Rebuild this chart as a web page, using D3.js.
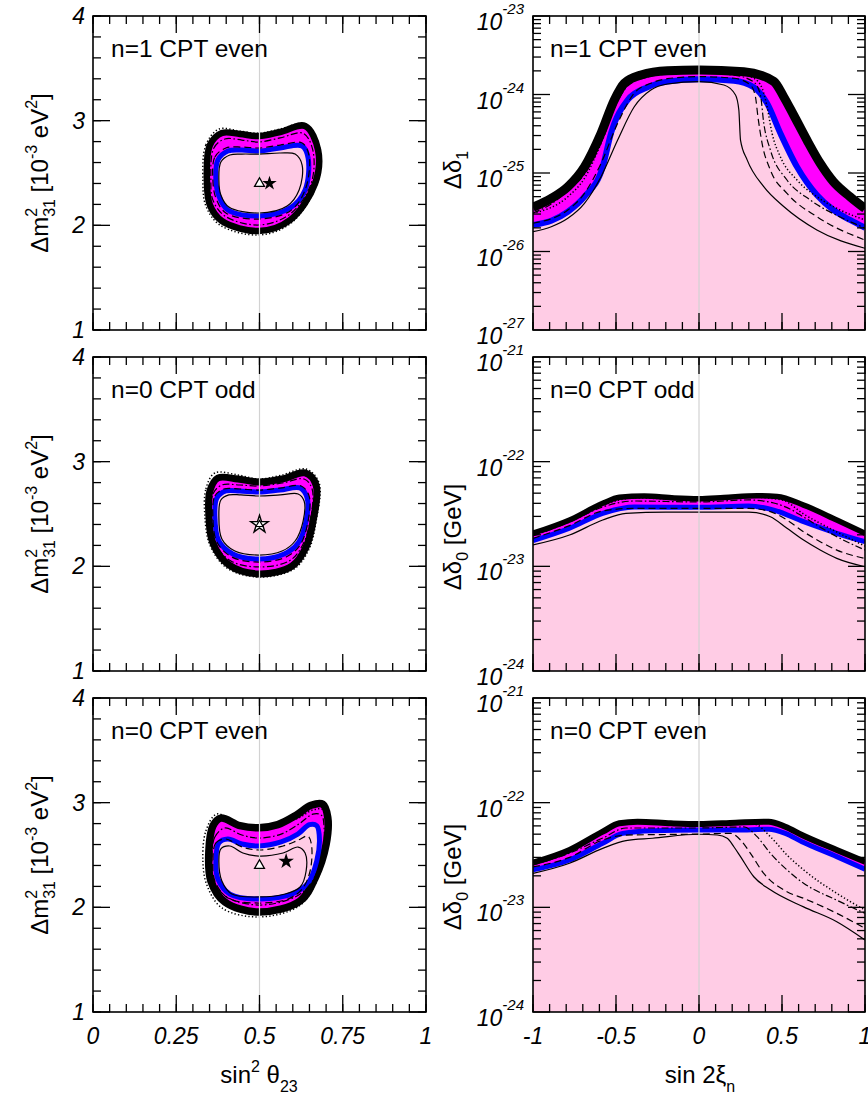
<!DOCTYPE html>
<html><head><meta charset="utf-8">
<script src="https://cdn.jsdelivr.net/npm/d3@7"></script>
<style>body{margin:0;background:#fff}svg{display:block}</style>
</head><body>
<svg id="c" width="868" height="1097"></svg>
<script>
// ---------------- DATA ----------------
// Left panels: contours in (sin^2 theta23, Delta m^2_31 [1e-3 eV^2])
const c1Black   = [[0.342,2.433],[0.351,2.767],[0.387,2.882],[0.441,2.873],[0.498,2.853],[0.562,2.892],[0.637,2.949],[0.676,2.720],[0.667,2.400],[0.592,2.051],[0.498,1.946],[0.387,2.041],[0.351,2.194]];
const c1Blue    = [[0.369,2.433],[0.375,2.624],[0.405,2.710],[0.447,2.720],[0.498,2.710],[0.562,2.739],[0.628,2.758],[0.646,2.643],[0.637,2.338],[0.592,2.166],[0.498,2.089],[0.405,2.146],[0.378,2.280]];
const c1DashDot = [[0.354,2.433],[0.363,2.739],[0.396,2.825],[0.447,2.815],[0.498,2.796],[0.562,2.835],[0.631,2.880],[0.660,2.720],[0.655,2.400],[0.592,2.108],[0.498,2.003],[0.396,2.089],[0.360,2.242]];
const c1Dashed  = [[0.360,2.433],[0.366,2.653],[0.399,2.739],[0.447,2.748],[0.498,2.739],[0.562,2.767],[0.628,2.787],[0.649,2.662],[0.637,2.338],[0.592,2.137],[0.498,2.060],[0.399,2.118],[0.369,2.261]];
const c1Solid   = [[0.378,2.433],[0.384,2.605],[0.411,2.672],[0.447,2.681],[0.498,2.681],[0.562,2.691],[0.607,2.681],[0.628,2.576],[0.619,2.338],[0.583,2.185],[0.498,2.118],[0.408,2.175],[0.384,2.290]];
const c1Dotted  = [[0.330,2.433],[0.339,2.767],[0.378,2.920],[0.441,2.900],[0.498,2.880],[0.562,2.920],[0.637,2.968],[0.682,2.720],[0.673,2.400],[0.595,2.022],[0.498,1.908],[0.381,2.003],[0.339,2.185]];

const c2Black   = [[0.348,2.481],[0.351,2.720],[0.375,2.844],[0.435,2.834],[0.498,2.806],[0.568,2.834],[0.637,2.892],[0.670,2.777],[0.661,2.433],[0.640,2.185],[0.598,2.003],[0.498,1.927],[0.408,2.013],[0.360,2.223]];
const c2Blue    = [[0.366,2.481],[0.372,2.653],[0.399,2.720],[0.441,2.720],[0.498,2.710],[0.562,2.729],[0.622,2.748],[0.643,2.653],[0.640,2.433],[0.616,2.223],[0.574,2.118],[0.498,2.070],[0.420,2.118],[0.378,2.242]];
const c2DashDot = [[0.357,2.481],[0.360,2.691],[0.387,2.777],[0.441,2.777],[0.498,2.767],[0.568,2.796],[0.634,2.834],[0.658,2.739],[0.652,2.433],[0.628,2.194],[0.589,2.051],[0.498,1.994],[0.414,2.051],[0.366,2.223]];
const c2Dashed  = [[0.360,2.481],[0.366,2.672],[0.393,2.739],[0.441,2.739],[0.498,2.729],[0.562,2.748],[0.625,2.767],[0.649,2.672],[0.646,2.433],[0.622,2.204],[0.580,2.089],[0.498,2.041],[0.417,2.089],[0.372,2.232]];
const c2Solid   = [[0.378,2.481],[0.384,2.634],[0.408,2.682],[0.444,2.682],[0.498,2.672],[0.562,2.682],[0.616,2.691],[0.634,2.624],[0.631,2.433],[0.607,2.242],[0.568,2.146],[0.498,2.108],[0.426,2.146],[0.387,2.261]];
const c2Dotted  = [[0.336,2.481],[0.339,2.739],[0.366,2.892],[0.435,2.873],[0.498,2.834],[0.568,2.873],[0.640,2.930],[0.679,2.796],[0.670,2.433],[0.649,2.166],[0.604,1.975],[0.498,1.898],[0.402,1.984],[0.351,2.204]];

const c3Black   = [[0.348,2.538],[0.360,2.777],[0.384,2.853],[0.441,2.780],[0.498,2.760],[0.555,2.790],[0.610,2.880],[0.655,2.975],[0.690,2.985],[0.705,2.860],[0.700,2.600],[0.667,2.280],[0.622,2.060],[0.498,1.955],[0.396,2.051],[0.354,2.252]];
const c3Blue    = [[0.369,2.443],[0.378,2.615],[0.405,2.653],[0.447,2.605],[0.498,2.586],[0.565,2.625],[0.615,2.700],[0.650,2.790],[0.672,2.780],[0.680,2.650],[0.672,2.443],[0.646,2.232],[0.598,2.127],[0.498,2.080],[0.411,2.127],[0.375,2.271]];
const c3DashDot = [[0.357,2.443],[0.366,2.672],[0.396,2.758],[0.447,2.691],[0.498,2.662],[0.565,2.700],[0.620,2.800],[0.660,2.890],[0.686,2.880],[0.694,2.760],[0.688,2.490],[0.655,2.232],[0.607,2.099],[0.498,2.022],[0.402,2.099],[0.363,2.252]];
const c3Dashed  = [[0.360,2.443],[0.369,2.615],[0.399,2.653],[0.447,2.577],[0.498,2.548],[0.571,2.586],[0.615,2.640],[0.645,2.680],[0.656,2.600],[0.652,2.347],[0.628,2.175],[0.586,2.080],[0.498,2.041],[0.405,2.089],[0.366,2.252]];
const c3Solid   = [[0.378,2.443],[0.384,2.558],[0.411,2.586],[0.450,2.519],[0.498,2.490],[0.571,2.519],[0.616,2.576],[0.637,2.519],[0.640,2.347],[0.622,2.194],[0.577,2.127],[0.498,2.099],[0.417,2.127],[0.387,2.252]];
const c3Dotted  = [[0.330,2.443],[0.339,2.729],[0.372,2.892],[0.441,2.775],[0.498,2.750],[0.560,2.800],[0.615,2.850],[0.660,2.930],[0.690,2.935],[0.702,2.820],[0.697,2.538],[0.672,2.252],[0.619,2.013],[0.498,1.908],[0.387,1.994],[0.342,2.213]];

// best-fit markers (open triangle, star)
const triPoints  = [[0.5,2.4],[0.5,2.4],[0.5,2.4]];
const starPoints = [[0.53,2.4],[0.5,2.4],[0.58,2.44]];
const starOpen   = [false,true,false];

// Right panels: bounds vs sin 2xi_n
const b1Black   = [[-1,3.66e-26],[-0.89,4.76e-26],[-0.79,6.70e-26],[-0.69,1.20e-25],[-0.59,3.21e-25],[-0.51,8.51e-25],[-0.45,1.39e-24],[-0.35,1.77e-24],[-0.19,2.01e-24],[0,2.05e-24],[0.27,1.95e-24],[0.45,1.47e-24],[0.51,9.38e-25],[0.57,5.48e-25],[0.65,2.63e-25],[0.73,1.33e-25],[0.81,7.74e-26],[0.91,4.99e-26],[1,3.53e-26]];
const b1Blue    = [[-1,2.18e-26],[-0.89,2.47e-26],[-0.79,3.21e-26],[-0.69,4.99e-26],[-0.58,1.20e-25],[-0.53,3.21e-25],[-0.43,8.51e-25],[-0.31,1.24e-24],[-0.19,1.46e-24],[0,1.56e-24],[0.21,1.50e-24],[0.33,1.24e-24],[0.41,7.73e-25],[0.49,3.21e-25],[0.59,1.20e-25],[0.71,5.25e-26],[0.81,3.38e-26],[0.91,2.52e-26],[1,2.01e-26]];
const b1Solid   = [[-1,1.79e-26],[-0.89,2.07e-26],[-0.79,2.65e-26],[-0.69,4.11e-26],[-0.59,8.97e-26],[-0.49,2.63e-25],[-0.39,6.98e-25],[-0.29,1.14e-24],[-0.19,1.36e-24],[0,1.46e-24],[0.15,1.32e-24],[0.22,9.86e-25],[0.24,6.35e-25],[0.25,2.63e-25],[0.29,1.47e-25],[0.39,6.70e-26],[0.51,3.74e-26],[0.71,1.88e-26],[1,1.10e-26]];
const b1Dashed  = [[-1,2.29e-26],[-0.79,3.38e-26],[-0.69,5.51e-26],[-0.59,1.33e-25],[-0.49,4.30e-25],[-0.39,1.04e-24],[-0.29,1.39e-24],[-0.19,1.59e-24],[0,1.69e-24],[0.21,1.61e-24],[0.31,1.32e-24],[0.34,9.38e-25],[0.355,5.21e-25],[0.38,2.39e-25],[0.43,1.09e-25],[0.53,5.51e-26],[0.71,2.77e-26],[1,1.40e-26]];
const b1DashDot = [[-1,3.09e-26],[-0.89,4.03e-26],[-0.80,5.73e-26],[-0.69,9.70e-26],[-0.59,2.41e-25],[-0.51,6.73e-25],[-0.43,1.28e-24],[-0.31,1.67e-24],[-0.19,1.82e-24],[0,1.88e-24],[0.21,1.77e-24],[0.33,1.44e-24],[0.37,9.86e-25],[0.39,4.34e-25],[0.43,1.96e-25],[0.53,8.15e-26],[0.67,4.53e-26],[0.85,2.75e-26],[1,1.99e-26]];
const b1Dotted  = [[-1,3.06e-26],[-0.79,4.99e-26],[-0.69,8.55e-26],[-0.59,2.39e-25],[-0.49,8.51e-25],[-0.39,1.53e-24],[-0.19,1.95e-24],[0,2.01e-24],[0.21,1.90e-24],[0.33,1.61e-24],[0.38,1.20e-24],[0.41,6.98e-25],[0.44,3.21e-25],[0.49,1.61e-25],[0.59,8.15e-26],[0.71,4.99e-26],[0.85,3.38e-26],[1,2.52e-26]];

const b2Black   = [[-1,2.07e-23],[-0.78,2.77e-23],[-0.58,4.00e-23],[-0.48,4.57e-23],[-0.33,4.70e-23],[-0.15,4.50e-23],[0,4.43e-23],[0.15,4.55e-23],[0.35,4.73e-23],[0.47,4.65e-23],[0.63,3.85e-23],[0.83,2.77e-23],[1,2.07e-23]];
const b2Blue    = [[-1,1.76e-23],[-0.78,2.31e-23],[-0.58,3.21e-23],[-0.39,3.69e-23],[0,3.66e-23],[0.30,3.77e-23],[0.45,3.45e-23],[0.63,2.67e-23],[0.83,2.07e-23],[1,1.72e-23]];
const b2Solid   = [[-1,1.60e-23],[-0.78,1.99e-23],[-0.58,2.77e-23],[-0.44,3.21e-23],[-0.2,3.30e-23],[0,3.30e-23],[0.3,3.30e-23],[0.43,2.98e-23],[0.53,2.31e-23],[0.63,1.78e-23],[0.73,1.43e-23],[0.83,1.19e-23],[1,9.91e-24]];
const b2Dashed  = [[-1,1.85e-23],[-0.78,2.45e-23],[-0.58,3.38e-23],[-0.39,3.58e-23],[0,3.58e-23],[0.3,3.58e-23],[0.43,3.33e-23],[0.53,2.77e-23],[0.63,2.14e-23],[0.73,1.72e-23],[0.83,1.43e-23],[1,1.19e-23]];
const b2DashDot = [[-1,1.95e-23],[-0.78,2.65e-23],[-0.58,3.69e-23],[-0.39,4.21e-23],[0,4.12e-23],[0.3,4.31e-23],[0.45,4.03e-23],[0.56,3.45e-23],[0.63,2.96e-23],[0.83,1.92e-23],[1,1.43e-23]];
const b2Dotted  = [[-1,2.08e-23],[-0.78,2.80e-23],[-0.58,3.85e-23],[-0.39,4.50e-23],[0,4.31e-23],[0.3,4.59e-23],[0.5,4.31e-23],[0.63,3.16e-23],[0.83,2.13e-23],[1,1.56e-23]];

const b3Black   = [[-1,2.67e-23],[-0.78,3.53e-23],[-0.58,5.28e-23],[-0.48,6.35e-23],[-0.37,6.58e-23],[-0.17,6.35e-23],[0,6.25e-23],[0.22,6.44e-23],[0.42,6.58e-23],[0.52,5.89e-23],[0.62,4.91e-23],[0.83,3.53e-23],[1,2.73e-23]];
const b3Blue    = [[-1,2.28e-23],[-0.78,2.83e-23],[-0.58,4.09e-23],[-0.46,5.09e-23],[-0.28,5.40e-23],[0,5.48e-23],[0.22,5.48e-23],[0.42,5.57e-23],[0.52,5.09e-23],[0.62,4.24e-23],[0.83,3.05e-23],[1,2.31e-23]];
const b3Solid   = [[-1,2.11e-23],[-0.78,2.64e-23],[-0.58,3.66e-23],[-0.44,4.34e-23],[-0.28,4.57e-23],[0,4.99e-23],[0.11,4.91e-23],[0.17,4.57e-23],[0.21,3.79e-23],[0.25,3.05e-23],[0.33,1.96e-23],[0.43,1.47e-23],[0.63,1.01e-23],[0.83,7.29e-24],[1,4.88e-24]];
const b3Dashed  = [[-1,2.43e-23],[-0.78,3.00e-23],[-0.58,4.40e-23],[-0.44,4.90e-23],[0,5.01e-23],[0.19,5.09e-23],[0.25,4.40e-23],[0.31,3.28e-23],[0.39,2.11e-23],[0.53,1.41e-23],[0.63,1.22e-23],[0.83,8.77e-24],[1,6.31e-24]];
const b3DashDot = [[-1,2.54e-23],[-0.78,3.30e-23],[-0.58,4.59e-23],[-0.44,5.73e-23],[0,5.73e-23],[0.27,5.86e-23],[0.35,4.73e-23],[0.43,3.28e-23],[0.53,2.28e-23],[0.63,1.70e-23],[0.83,1.17e-23],[1,8.77e-24]];
const b3Dotted  = [[-1,2.73e-23],[-0.78,3.50e-23],[-0.58,5.25e-23],[-0.44,6.40e-23],[0,6.25e-23],[0.33,6.25e-23],[0.43,4.73e-23],[0.53,3.16e-23],[0.63,2.28e-23],[0.83,1.36e-23],[1,9.44e-24]];

// ticks and labels
const panelLabels   = ["n=1 CPT even","n=0 CPT odd","n=0 CPT even"];
const leftXTicks    = [0,0.25,0.5,0.75,1];
const leftXLabels   = ["0","0.25","0.5","0.75","1"];
const leftYTicks    = [1,2,3,4];
const rightXTicks   = [-1,-0.5,0,0.5,1];
const rightXLabels  = ["-1","-0.5","0","0.5","1"];
const rightYDecades = [[-27,-26,-25,-24,-23],[-24,-23,-22,-21],[-24,-23,-22,-21]];
const rightYSub     = ["1","0","0"];
const rightYUnit    = [""," [GeV]"," [GeV]"];

// ---------------- LAYOUT / STYLE ----------------
const svg = d3.select('#c');
const FONT = "'Liberation Sans', Arial, Helvetica, sans-serif";
svg.attr('font-family', FONT);
const rowTops = [16,357,698], rowH = 314;
const LX = [93,426], RX = [533,865];
const MAG = '#ff00ff', BLUE = '#0000ff', PINK = '#ffcce5', GRAY = '#d2d2d2';
const dash = {dotted:'1.3,2.2', dashdot:'7,2.5,1.6,2.5', dashed:'7,4', solid:null};
const leftSets = [
  {black:c1Black, blue:c1Blue, dashdot:c1DashDot, dashed:c1Dashed, solid:c1Solid, dotted:c1Dotted, bw:6.5},
  {black:c2Black, blue:c2Blue, dashdot:c2DashDot, dashed:c2Dashed, solid:c2Solid, dotted:c2Dotted, bw:7},
  {black:c3Black, blue:c3Blue, dashdot:c3DashDot, dashed:c3Dashed, solid:c3Solid, dotted:c3Dotted, bw:7.5}
];
const rightSets = [
  {black:b1Black, blue:b1Blue, dashdot:b1DashDot, dashed:b1Dashed, solid:b1Solid, dotted:b1Dotted, bw:9, uw:6},
  {black:b2Black, blue:b2Blue, dashdot:b2DashDot, dashed:b2Dashed, solid:b2Solid, dotted:b2Dotted, bw:5.5, uw:5},
  {black:b3Black, blue:b3Blue, dashdot:b3DashDot, dashed:b3Dashed, solid:b3Solid, dotted:b3Dotted, bw:6, uw:5}
];
const MAJ = 17, MIN = 8;

function drawTicks(g, x, y, xr, yr, xMaj, xMin, yMaj, yMin){
  const [x0,x1] = xr, [yb,yt] = yr;
  const tk = g.append('g').attr('stroke','#000').attr('stroke-width',1.3);
  const vx = (v,len)=>{
    tk.append('line').attr('x1',x(v)).attr('x2',x(v)).attr('y1',yb).attr('y2',yb-len);
    tk.append('line').attr('x1',x(v)).attr('x2',x(v)).attr('y1',yt).attr('y2',yt+len);
  };
  const hy = (v,len)=>{
    tk.append('line').attr('y1',y(v)).attr('y2',y(v)).attr('x1',x0).attr('x2',x0+len);
    tk.append('line').attr('y1',y(v)).attr('y2',y(v)).attr('x1',x1).attr('x2',x1-len);
  };
  xMin.forEach(v=>vx(v,MIN)); xMaj.forEach(v=>vx(v,MAJ));
  yMin.forEach(v=>hy(v,MIN)); yMaj.forEach(v=>hy(v,MAJ));
  g.append('rect').attr('x',x0).attr('y',yt).attr('width',x1-x0).attr('height',yb-yt)
    .attr('fill','none').attr('stroke','#000').attr('stroke-width',1.6);
}

function thinLines(p, set, lineGen){
  ['dotted','dashdot','dashed','solid'].forEach(k=>{
    const path = p.append('path').attr('d',lineGen(set[k])).attr('fill','none')
      .attr('stroke','#000').attr('stroke-width', k==='dotted'?1.5:1.2);
    if(dash[k]) path.attr('stroke-dasharray',dash[k]);
  });
}

// ---------------- LEFT PANELS ----------------
leftSets.forEach((set,i)=>{
  const top = rowTops[i], bot = top+rowH;
  const x = d3.scaleLinear().domain([0,1]).range(LX);
  const y = d3.scaleLinear().domain([1,4]).range([bot,top]);
  const g = svg.append('g');
  svg.append('clipPath').attr('id','cl'+i).append('rect')
    .attr('x',LX[0]).attr('y',top).attr('width',LX[1]-LX[0]).attr('height',rowH);
  const p = g.append('g').attr('clip-path','url(#cl'+i+')');
  const line = d3.line().x(d=>x(d[0])).y(d=>y(d[1])).curve(d3.curveCatmullRomClosed.alpha(0.5));
  p.append('path').attr('d',line(set.black)).attr('fill',MAG).attr('stroke','#000')
    .attr('stroke-width',set.bw).attr('stroke-linejoin','round');
  p.append('path').attr('d',line(set.blue)).attr('fill',PINK).attr('stroke',BLUE)
    .attr('stroke-width',5).attr('stroke-linejoin','round');
  thinLines(p,set,line);
  p.append('line').attr('x1',x(0.5)).attr('x2',x(0.5)).attr('y1',top).attr('y2',bot)
    .attr('stroke',GRAY).attr('stroke-width',1.2);
  // markers
  const st = starPoints[i], tr = triPoints[i];
  if(starOpen[i]){
    p.append('path').attr('d',d3.symbol(d3.symbolStar,95)())
      .attr('transform',`translate(${x(st[0])},${y(st[1])})`)
      .attr('fill','#fff').attr('stroke','#000').attr('stroke-width',1.4);
    p.append('path').attr('d',d3.symbol(d3.symbolTriangle,22)())
      .attr('transform',`translate(${x(tr[0])},${y(tr[1])})`)
      .attr('fill','#fff').attr('stroke','#000').attr('stroke-width',1.2);
  } else {
    p.append('path').attr('d',d3.symbol(d3.symbolTriangle,42)())
      .attr('transform',`translate(${x(tr[0])},${y(tr[1])})`)
      .attr('fill','#fff').attr('stroke','#000').attr('stroke-width',1.3);
    p.append('path').attr('d',d3.symbol(d3.symbolStar,i===2?75:65)())
      .attr('transform',`translate(${x(st[0])},${y(st[1])})`).attr('fill','#000');
  }
  drawTicks(g,x,y,LX,[bot,top],leftXTicks,d3.range(0,1.0001,0.05),leftYTicks,d3.range(1,4.0001,0.2));
  // y tick labels
  leftYTicks.forEach(v=>{
    g.append('text').attr('x',LX[0]-8).attr('y',y(v)+8).attr('text-anchor','end')
      .attr('font-style','italic').attr('font-size',23).text(String(v));
  });
  if(i===2){
    leftXTicks.forEach((v,j)=>{
      g.append('text').attr('x',x(v)).attr('y',bot+32).attr('text-anchor','middle')
        .attr('font-style','italic').attr('font-size',23).text(leftXLabels[j]);
    });
  }
  g.append('text').attr('x',LX[0]+18).attr('y',top+41).attr('font-size',24.5).text(panelLabels[i]);
  // y axis title
  const t = g.append('text').attr('transform',`translate(48,${(top+bot)/2}) rotate(-90)`)
    .attr('text-anchor','middle').attr('font-size',24);
  t.append('tspan').text('\u0394m');
  t.append('tspan').attr('font-size',16).attr('dy',-11).text('2');
  t.append('tspan').attr('font-size',16).attr('dx',-9).attr('dy',18).text('31');
  t.append('tspan').attr('dy',-7).text(' [10');
  t.append('tspan').attr('font-size',16).attr('dy',-11).text('-3');
  t.append('tspan').attr('dy',11).text(' eV');
  t.append('tspan').attr('font-size',16).attr('dy',-11).text('2');
  t.append('tspan').attr('dy',11).text(']');
});

// ---------------- RIGHT PANELS ----------------
const rightLabelY = [170,537,877];
rightSets.forEach((set,i)=>{
  const top = rowTops[i], bot = top+rowH;
  const dec = rightYDecades[i];
  const x = d3.scaleLinear().domain([-1,1]).range(RX);
  const y = d3.scaleLog().domain([Math.pow(10,dec[0]),Math.pow(10,dec[dec.length-1])]).range([bot,top]);
  const g = svg.append('g');
  svg.append('clipPath').attr('id','cr'+i).append('rect')
    .attr('x',RX[0]).attr('y',top).attr('width',RX[1]-RX[0]).attr('height',rowH);
  const p = g.append('g').attr('clip-path','url(#cr'+i+')');
  const area = d3.area().x(d=>x(d[0])).y0(bot).y1(d=>y(d[1])).curve(d3.curveMonotoneX);
  const line = d3.line().x(d=>x(d[0])).y(d=>y(d[1])).curve(d3.curveMonotoneX);
  p.append('path').attr('d',area(set.black)).attr('fill',MAG);
  p.append('path').attr('d',area(set.blue)).attr('fill',PINK);
  p.append('path').attr('d',line(set.black)).attr('fill','none').attr('stroke','#000').attr('stroke-width',set.bw);
  p.append('path').attr('d',line(set.blue)).attr('fill','none').attr('stroke',BLUE).attr('stroke-width',set.uw);
  thinLines(p,set,line);
  p.append('line').attr('x1',x(0)).attr('x2',x(0)).attr('y1',top).attr('y2',bot)
    .attr('stroke',GRAY).attr('stroke-width',1.2);
  const yMaj = dec.map(d=>Math.pow(10,d));
  const yMin = [];
  dec.slice(0,-1).forEach(d=>{ for(let k=2;k<=9;k++) yMin.push(k*Math.pow(10,d)); });
  drawTicks(g,x,y,RX,[bot,top],rightXTicks,d3.range(-1,1.0001,0.1),yMaj,yMin);
  dec.forEach(d=>{
    const t = g.append('text').attr('x',RX[0]-9).attr('y',y(Math.pow(10,d))+14)
      .attr('text-anchor','end').attr('font-style','italic').attr('font-size',23);
    t.append('tspan').text('10');
    t.append('tspan').attr('font-size',15).attr('dy',-16).text(String(d));
  });
  if(i===2){
    rightXTicks.forEach((v,j)=>{
      g.append('text').attr('x',x(v)).attr('y',bot+32).attr('text-anchor','middle')
        .attr('font-style','italic').attr('font-size',23).text(rightXLabels[j]);
    });
  }
  g.append('text').attr('x',RX[0]+17).attr('y',top+41).attr('font-size',24.5).text(panelLabels[i]);
  const t = g.append('text').attr('transform',`translate(461,${rightLabelY[i]}) rotate(-90)`)
    .attr('text-anchor','middle').attr('font-size',24);
  t.append('tspan').text('\u0394\u03b4');
  t.append('tspan').attr('font-size',16).attr('dy',7).text(rightYSub[i]);
  if(rightYUnit[i]) t.append('tspan').attr('dy',-7).text(rightYUnit[i]);
});

// bottom axis titles
const bt1 = svg.append('text').attr('x',259).attr('y',1083).attr('text-anchor','middle').attr('font-size',24);
bt1.append('tspan').text('sin');
bt1.append('tspan').attr('font-size',16).attr('dy',-11).text('2');
bt1.append('tspan').attr('dy',11).text(' \u03b8');
bt1.append('tspan').attr('font-size',16).attr('dy',9).text('23');
const bt2 = svg.append('text').attr('x',700).attr('y',1083).attr('text-anchor','middle').attr('font-size',24);
bt2.append('tspan').text('sin 2\u03be');
bt2.append('tspan').attr('font-size',16).attr('dy',9).text('n');
</script>
</body></html>
